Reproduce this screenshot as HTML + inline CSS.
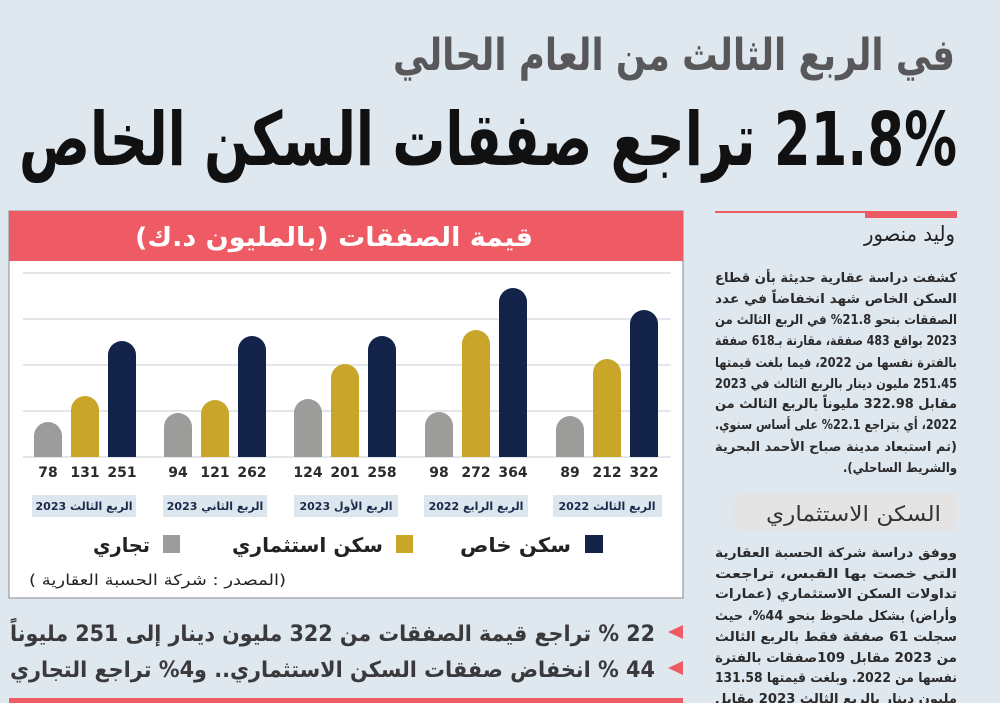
<!DOCTYPE html>
<html><head><meta charset="utf-8"><style>
html,body{margin:0;padding:0;background:#dfe7ef;}
svg{display:block;font-family:"DejaVu Sans",sans-serif;}
</style></head><body>
<svg width="1000" height="703" viewBox="0 0 1000 703" xmlns="http://www.w3.org/2000/svg">
<rect width="1000" height="703" fill="#dfe7ef"/>
<!-- headline -->
<text x="955" y="70" direction="rtl" text-anchor="start" font-size="44" font-weight="bold" fill="#58585a" textLength="562" lengthAdjust="spacingAndGlyphs">في الربع الثالث من العام الحالي</text>
<text x="957" y="165" direction="rtl" text-anchor="start" font-size="74" font-weight="bold" fill="#111" textLength="938" lengthAdjust="spacingAndGlyphs">21.8% تراجع صفقات السكن الخاص</text>

<!-- chart box -->
<rect x="9" y="211" width="674" height="387" fill="#fff" stroke="#888" stroke-width="1"/>
<rect x="9" y="211" width="674" height="50" fill="#ef5b64"/>
<text x="533" y="246" direction="rtl" text-anchor="start" font-size="26" font-weight="bold" fill="#fff" textLength="398" lengthAdjust="spacingAndGlyphs">قيمة الصفقات (بالمليون د.ك)</text>
<g stroke="#e4e6ea" stroke-width="2">
<line x1="23" y1="273" x2="671" y2="273"/><line x1="23" y1="319" x2="671" y2="319"/>
<line x1="23" y1="365" x2="671" y2="365"/><line x1="23" y1="411" x2="671" y2="411"/>
<line x1="23" y1="457" x2="671" y2="457"/>
</g>
<g font-size="14" font-weight="bold" fill="#2b2b2b" text-anchor="middle">
<text x="644" y="477">322</text><text x="607" y="477">212</text><text x="570" y="477">89</text>
<text x="513" y="477">364</text><text x="476" y="477">272</text><text x="439" y="477">98</text>
<text x="382" y="477">258</text><text x="345" y="477">201</text><text x="308" y="477">124</text>
<text x="252" y="477">262</text><text x="215" y="477">121</text><text x="178" y="477">94</text>
<text x="122" y="477">251</text><text x="85" y="477">131</text><text x="48" y="477">78</text>
</g>
<g fill="#dce6ef">
<rect x="553" y="495" width="109" height="22"/><rect x="424" y="495" width="104" height="22"/>
<rect x="294" y="495" width="104" height="22"/><rect x="163" y="495" width="104" height="22"/>
<rect x="32" y="495" width="104" height="22"/>
</g>
<g font-size="11" font-weight="bold" fill="#1b2a4a" text-anchor="middle">
<text x="607" y="510">الربع الثالث 2022</text><text x="476" y="510">الربع الرابع 2022</text>
<text x="346" y="510">الربع الأول 2023</text><text x="215" y="510">الربع الثاني 2023</text>
<text x="84" y="510">الربع الثالث 2023</text>
</g>
<rect x="585" y="535" width="18" height="18" fill="#13234a"/>
<text x="571" y="552" direction="rtl" text-anchor="start" font-size="20" font-weight="bold" fill="#222" textLength="111" lengthAdjust="spacingAndGlyphs">سكن خاص</text>
<rect x="396" y="535" width="17" height="18" fill="#c9a62a"/>
<text x="383" y="552" direction="rtl" text-anchor="start" font-size="20" font-weight="bold" fill="#222" textLength="151" lengthAdjust="spacingAndGlyphs">سكن استثماري</text>
<rect x="163" y="535" width="17" height="18" fill="#9c9c9a"/>
<text x="150" y="552" direction="rtl" text-anchor="start" font-size="20" font-weight="bold" fill="#222" textLength="57" lengthAdjust="spacingAndGlyphs">تجاري</text>
<text x="286" y="585" direction="rtl" text-anchor="start" font-size="15" fill="#222" textLength="257" lengthAdjust="spacingAndGlyphs">(المصدر : شركة الحسبة العقارية )</text>

<!-- bullets -->
<polygon points="683,625 683,639 668,632" fill="#ef5b64"/>
<text x="655" y="641" direction="rtl" text-anchor="start" font-size="22" font-weight="bold" fill="#3a3a3c" textLength="645" lengthAdjust="spacingAndGlyphs">22 % تراجع قيمة الصفقات من 322 مليون دينار إلى 251 مليوناً</text>
<polygon points="683,661 683,675 668,668" fill="#ef5b64"/>
<text x="655" y="677" direction="rtl" text-anchor="start" font-size="22" font-weight="bold" fill="#3a3a3c" textLength="645" lengthAdjust="spacingAndGlyphs">44 % انخفاض صفقات السكن الاستثماري.. و4% تراجع التجاري</text>
<rect x="9" y="698" width="674" height="5" fill="#ef5b64"/>

<!-- right column -->
<rect x="715" y="211" width="242" height="2" fill="#ef5b64"/>
<rect x="865" y="211" width="92" height="7" fill="#ef5b64"/>
<text x="955" y="241" direction="rtl" text-anchor="start" font-size="21" fill="#222" textLength="91" lengthAdjust="spacingAndGlyphs">وليد منصور</text>
<g font-size="13" font-weight="bold" fill="#2a2a2a" direction="rtl" text-anchor="start">
<text x="957" y="282" textLength="242" lengthAdjust="spacingAndGlyphs">كشفت دراسة عقارية حديثة بأن قطاع</text>
<text x="957" y="303" textLength="242" lengthAdjust="spacingAndGlyphs">السكن الخاص شهد انخفاضاً في عدد</text>
<text x="957" y="324" textLength="242" lengthAdjust="spacingAndGlyphs">الصفقات بنحو 21.8% في الربع الثالث من</text>
<text x="957" y="345" textLength="242" lengthAdjust="spacingAndGlyphs">2023 بواقع 483 صفقة، مقارنة بـ618 صفقة</text>
<text x="957" y="367" textLength="242" lengthAdjust="spacingAndGlyphs">بالفترة نفسها من 2022، فيما بلغت قيمتها</text>
<text x="957" y="388" textLength="242" lengthAdjust="spacingAndGlyphs">251.45 مليون دينار بالربع الثالث في 2023</text>
<text x="957" y="408" textLength="242" lengthAdjust="spacingAndGlyphs">مقابل 322.98 مليوناً بالربع الثالث من</text>
<text x="957" y="429" textLength="242" lengthAdjust="spacingAndGlyphs">2022، أي بتراجع 22.1% على أساس سنوي.</text>
<text x="957" y="451" textLength="242" lengthAdjust="spacingAndGlyphs">(تم استبعاد مدينة صباح الأحمد البحرية</text>
<text x="957" y="472" textLength="114" lengthAdjust="spacingAndGlyphs">والشريط الساحلي).</text>
<text x="957" y="557" textLength="242" lengthAdjust="spacingAndGlyphs">ووفق دراسة شركة الحسبة العقارية</text>
<text x="957" y="578" textLength="242" lengthAdjust="spacingAndGlyphs">التي خصت بها القبس، تراجعت</text>
<text x="957" y="598" textLength="242" lengthAdjust="spacingAndGlyphs">تداولات السكن الاستثماري (عمارات</text>
<text x="957" y="620" textLength="242" lengthAdjust="spacingAndGlyphs">وأراض) بشكل ملحوظ بنحو 44%، حيث</text>
<text x="957" y="641" textLength="242" lengthAdjust="spacingAndGlyphs">سجلت 61 صفقة فقط بالربع الثالث</text>
<text x="957" y="662" textLength="242" lengthAdjust="spacingAndGlyphs">من 2023 مقابل 109صفقات بالفترة</text>
<text x="957" y="682" textLength="242" lengthAdjust="spacingAndGlyphs">نفسها من 2022. وبلغت قيمتها 131.58</text>
<text x="957" y="703" textLength="242" lengthAdjust="spacingAndGlyphs">مليون دينار بالربع الثالث 2023 مقابل</text>
</g>
<rect x="734" y="493" width="223" height="38" rx="10" fill="#e4e4e4"/>
<text x="941" y="521" direction="rtl" text-anchor="start" font-size="21" fill="#333" textLength="175" lengthAdjust="spacingAndGlyphs">السكن الاستثماري</text>

<!-- bars -->
<g>
<path d="M630,457 V324 a14,14 0 0 1 28,0 V457 Z" fill="#13234a"/>
<path d="M593,457 V373 a14,14 0 0 1 28,0 V457 Z" fill="#c9a62a"/>
<path d="M556,457 V430 a14,14 0 0 1 28,0 V457 Z" fill="#9c9c9a"/>
<path d="M499,457 V302 a14,14 0 0 1 28,0 V457 Z" fill="#13234a"/>
<path d="M462,457 V344 a14,14 0 0 1 28,0 V457 Z" fill="#c9a62a"/>
<path d="M425,457 V426 a14,14 0 0 1 28,0 V457 Z" fill="#9c9c9a"/>
<path d="M368,457 V350 a14,14 0 0 1 28,0 V457 Z" fill="#13234a"/>
<path d="M331,457 V378 a14,14 0 0 1 28,0 V457 Z" fill="#c9a62a"/>
<path d="M294,457 V413 a14,14 0 0 1 28,0 V457 Z" fill="#9c9c9a"/>
<path d="M238,457 V350 a14,14 0 0 1 28,0 V457 Z" fill="#13234a"/>
<path d="M201,457 V414 a14,14 0 0 1 28,0 V457 Z" fill="#c9a62a"/>
<path d="M164,457 V427 a14,14 0 0 1 28,0 V457 Z" fill="#9c9c9a"/>
<path d="M108,457 V355 a14,14 0 0 1 28,0 V457 Z" fill="#13234a"/>
<path d="M71,457 V410 a14,14 0 0 1 28,0 V457 Z" fill="#c9a62a"/>
<path d="M34,457 V436 a14,14 0 0 1 28,0 V457 Z" fill="#9c9c9a"/>
</g>
</svg>
</body></html>
